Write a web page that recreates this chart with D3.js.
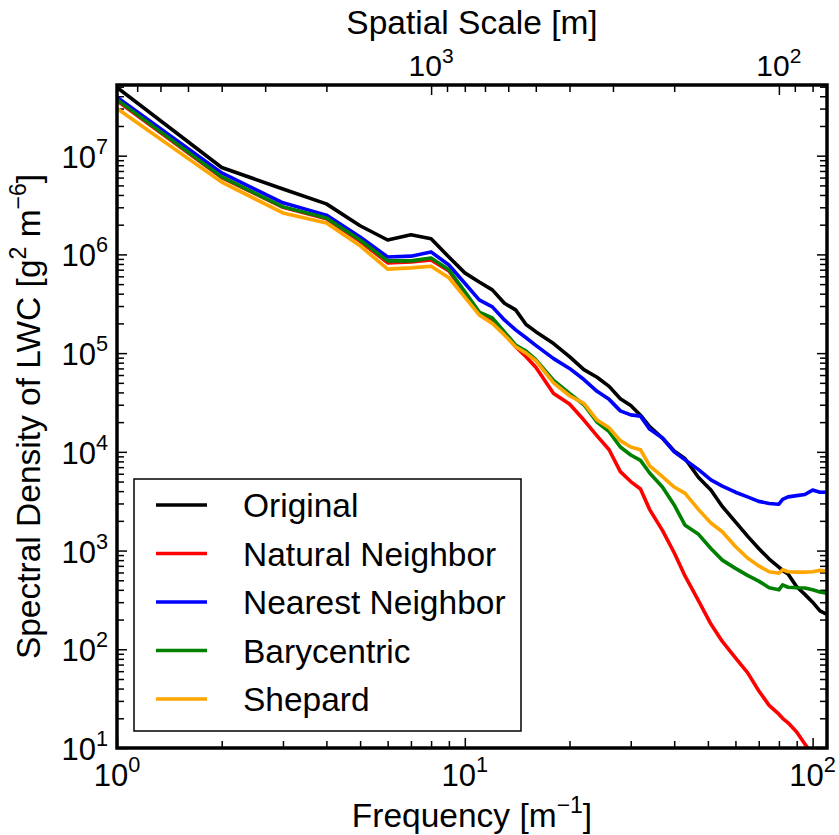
<!DOCTYPE html>
<html>
<head>
<meta charset="utf-8">
<script src="https://cdn.jsdelivr.net/npm/d3@7"></script>
<style>
  body { margin: 0; background: #fff; }
  svg text { font-family: "Liberation Sans", Arial, Helvetica, sans-serif; fill: #000; }
</style>
</head>
<body>
<div id="chart"></div>
<script>
// frequency samples [m^-1]
const freq = [1, 2, 3, 4, 5, 6, 7, 8, 9, 10, 11, 12, 13, 14, 15, 16, 18, 20, 22, 24, 26, 28, 30, 32, 34,
  37, 40, 43, 47, 51, 55, 60, 65, 70, 75, 80, 82, 85, 90, 95, 100, 105, 110];

const original = [4.9e7, 7.6e6, 4.6e6, 3.25e6, 1.95e6, 1.40e6, 1.58e6, 1.44e6, 9.4e5, 6.5e5, 5.25e5, 4.37e5, 3.2e5, 2.74e5, 1.95e5, 1.65e5, 1.25e5, 9.2e4, 6.8e4, 5.7e4, 4.6e4, 3.45e4, 2.95e4, 2.35e4, 1.8e4,
  1.38e4, 1.02e4, 8.5e3, 5.5e3, 4.1e3, 2.8e3, 1.95e3, 1.4e3, 1.05e3, 820, 680, 630, 580, 430, 360, 300, 245, 225];
const natural = [3.6e7, 6.0e6, 3.0e6, 2.3e6, 1.36e6, 8.2e5, 8.4e5, 8.8e5, 6.8e5, 4.1e5, 2.55e5, 2.2e5, 1.6e5, 1.16e5, 9.2e4, 7.2e4, 3.9e4, 3.05e4, 2.1e4, 1.45e4, 1.05e4, 6.3e3, 5.0e3, 4.2e3, 2.6e3,
  1.6e3, 950, 550, 310, 180, 120, 82, 58, 38, 27, 22, 20, 18, 14.5, 11, 8.5, 6.5, 5];
const nearest = [3.9e7, 6.7e6, 3.33e6, 2.5e6, 1.5e6, 9.4e5, 9.6e5, 1.06e6, 7.8e5, 5.1e5, 3.46e5, 2.94e5, 2.17e5, 1.72e5, 1.43e5, 1.2e5, 8.8e4, 7.0e4, 5.4e4, 4.1e4, 3.4e4, 2.6e4, 2.37e4, 2.3e4, 1.7e4,
  1.38e4, 1.0e4, 8.3e3, 6.6e3, 5.2e3, 4.5e3, 3.9e3, 3.5e3, 3.15e3, 3.0e3, 2.95e3, 3.3e3, 3.5e3, 3.6e3, 3.7e3, 4.1e3, 3.9e3, 3.9e3];
const barycentric = [3.7e7, 6.1e6, 3.03e6, 2.34e6, 1.40e6, 8.6e5, 8.6e5, 9.2e5, 7.0e5, 4.2e5, 2.6e5, 2.27e5, 1.64e5, 1.21e5, 1.05e5, 8.6e4, 5.3e4, 3.9e4, 3.0e4, 2.0e4, 1.6e4, 1.12e4, 9.3e3, 8.2e3, 6.1e3,
  4.4e3, 2.9e3, 1.8e3, 1.46e3, 1.05e3, 800, 660, 560, 490, 420, 400, 450, 425, 420, 418, 400, 380, 370];
const shepard = [3.0e7, 5.4e6, 2.63e6, 2.08e6, 1.22e6, 7.1e5, 7.3e5, 7.6e5, 5.8e5, 3.7e5, 2.44e5, 2.0e5, 1.53e5, 1.16e5, 1.0e5, 8.4e4, 5.0e4, 3.7e4, 3.1e4, 2.1e4, 1.75e4, 1.3e4, 1.12e4, 1.05e4, 7.2e3,
  5.6e3, 4.4e3, 3.8e3, 2.6e3, 1.9e3, 1.55e3, 1.1e3, 840, 700, 610, 590, 640, 610, 605, 605, 610, 630, 620];

const seriesNames = ["Original", "Natural Neighbor", "Nearest Neighbor", "Barycentric", "Shepard"];
const seriesColors = ["#000000", "#ff0000", "#0000ff", "#008000", "#ffa500"];
const seriesValues = [original, natural, nearest, barycentric, shepard];

const xTickExps = [0, 1, 2];
const yTickExps = [1, 2, 3, 4, 5, 6, 7];
const topTickExps = [3, 2];
const spatialConst = 8000; // spatial scale [m] = spatialConst / frequency

const W = 839, H = 835;
const mLeft = 117, mRight = 827, mTop = 85, mBottom = 748;

const svg = d3.select("#chart").append("svg").attr("width", W).attr("height", H);

const x = d3.scaleLog().domain([1, 110]).range([mLeft, mRight]);
const y = d3.scaleLog().domain([10, 5.2e7]).range([mBottom, mTop]);
const xTop = d3.scaleLog().domain([spatialConst / 1, spatialConst / 110]).range([mLeft, mRight]);

svg.append("clipPath").attr("id", "clip")
  .append("rect").attr("x", mLeft).attr("y", mTop).attr("width", mRight - mLeft).attr("height", mBottom - mTop);

// minor / major tick values
const minorsFor = (lo, hi) => {
  const out = [];
  for (let e = lo; e <= hi; e++) for (let m = 2; m <= 9; m++) out.push(m * Math.pow(10, e));
  return out;
};
const xMinor = minorsFor(0, 2).filter(v => v <= 110);
const yMinor = minorsFor(1, 7).filter(v => v <= 5.2e7);
const topMinor = minorsFor(1, 3).filter(v => v <= spatialConst && v >= spatialConst / 110);

function tickGroup(axis, tx, ty) {
  const g = svg.append("g").attr("transform", `translate(${tx},${ty})`).call(axis);
  g.select(".domain").remove();
  g.selectAll(".tick line").attr("stroke", "#000").attr("stroke-width", 1.5);
  g.selectAll(".tick text").remove();
  return g;
}

// inward ticks on all four sides
tickGroup(d3.axisBottom(x).tickValues(xMinor).tickSize(-7), 0, mBottom);
tickGroup(d3.axisBottom(x).tickValues(xTickExps.map(e => Math.pow(10, e))).tickSize(-10), 0, mBottom);
tickGroup(d3.axisLeft(y).tickValues(yMinor).tickSize(-7), mLeft, 0);
tickGroup(d3.axisLeft(y).tickValues(yTickExps.map(e => Math.pow(10, e))).tickSize(-10), mLeft, 0);
tickGroup(d3.axisRight(y).tickValues(yMinor).tickSize(-7), mRight, 0);
tickGroup(d3.axisRight(y).tickValues(yTickExps.map(e => Math.pow(10, e))).tickSize(-10), mRight, 0);
tickGroup(d3.axisTop(xTop).tickValues(topMinor).tickSize(-7), 0, mTop);
tickGroup(d3.axisTop(xTop).tickValues(topTickExps.map(e => Math.pow(10, e))).tickSize(-10), 0, mTop);

// data lines
const line = d3.line().x(d => x(d[0])).y(d => y(d[1]));
const plot = svg.append("g").attr("clip-path", "url(#clip)");
seriesValues.forEach((vals, i) => {
  plot.append("path")
    .datum(freq.map((f, j) => [f, vals[j]]))
    .attr("d", line)
    .attr("fill", "none")
    .attr("stroke", seriesColors[i])
    .attr("stroke-width", 3.6)
    .attr("stroke-linejoin", "round");
});

// frame
svg.append("rect").attr("x", mLeft).attr("y", mTop).attr("width", mRight - mLeft).attr("height", mBottom - mTop)
  .attr("fill", "none").attr("stroke", "#000").attr("stroke-width", 3.5);

// power-of-ten label helper
function powLabel(sel, base, exp, size) {
  sel.append("tspan").text(base);
  sel.append("tspan").attr("dy", -0.45 * size).attr("font-size", size * 0.7).text(exp);
}

const fs = 31;
xTickExps.forEach(e => {
  const t = svg.append("text").attr("x", x(Math.pow(10, e))).attr("y", mBottom + 38)
    .attr("text-anchor", "middle").attr("font-size", fs);
  powLabel(t, "10", e, fs);
});
yTickExps.forEach(e => {
  const t = svg.append("text").attr("x", mLeft - 9).attr("y", y(Math.pow(10, e)) + 12)
    .attr("text-anchor", "end").attr("font-size", fs);
  powLabel(t, "10", e, fs);
});
topTickExps.forEach(e => {
  const t = svg.append("text").attr("x", xTop(Math.pow(10, e))).attr("y", mTop - 9)
    .attr("text-anchor", "middle").attr("font-size", 30);
  powLabel(t, "10", e, 30);
});

// axis titles
const ts = 33.5;
const xl = svg.append("text").attr("x", (mLeft + mRight) / 2).attr("y", 827)
  .attr("text-anchor", "middle").attr("font-size", ts);
xl.append("tspan").text("Frequency [m");
xl.append("tspan").attr("dy", -14).attr("font-size", 23).text("\u22121");
xl.append("tspan").attr("dy", 14).text("]");

svg.append("text").attr("x", (mLeft + mRight) / 2).attr("y", 34)
  .attr("text-anchor", "middle").attr("font-size", ts).text("Spatial Scale [m]");

const yl = svg.append("text")
  .attr("transform", `translate(40,${(mTop + mBottom) / 2}) rotate(-90)`)
  .attr("text-anchor", "middle").attr("font-size", ts);
yl.append("tspan").text("Spectral Density of LWC [g");
yl.append("tspan").attr("dy", -14).attr("font-size", 23).text("2");
yl.append("tspan").attr("dy", 14).text(" m");
yl.append("tspan").attr("dy", -14).attr("font-size", 23).text("\u22126");
yl.append("tspan").attr("dy", 14).text("]");

// legend
const lg = svg.append("g");
lg.append("rect").attr("x", 134).attr("y", 479).attr("width", 387).attr("height", 252)
  .attr("fill", "#fff").attr("stroke", "#000").attr("stroke-width", 1.5);
seriesNames.forEach((name, i) => {
  const cy = 505 + i * 48.5;
  lg.append("line").attr("x1", 156).attr("x2", 207).attr("y1", cy).attr("y2", cy)
    .attr("stroke", seriesColors[i]).attr("stroke-width", 3.6);
  lg.append("text").attr("x", 243).attr("y", cy + 12).attr("font-size", ts).text(name);
});
</script>
</body>
</html>
